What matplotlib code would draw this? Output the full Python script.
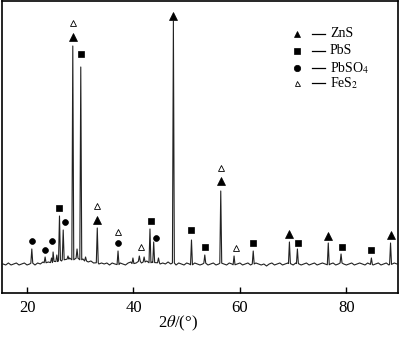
import numpy as np
import matplotlib.pyplot as plt

plt.rcParams['font.family'] = ['Liberation Serif', 'DejaVu Serif']
plt.rcParams['mathtext.fontset'] = 'stix'

# baseline of the pattern, every 0.5 deg from 15.5 to 89.5
base_start = 15.5
base_step = 0.5
baseline = [
    29, 28, 30, 28, 29, 30, 28, 29, 30, 28,
    29, 30, 28, 30, 29, 31, 30, 31, 30, 32,
    31, 33, 32, 34, 33, 35, 33, 34, 35, 33,
    34, 32, 31, 32, 30, 31, 29, 30, 29, 30,
    28, 30, 29, 28, 30, 29, 28, 30, 31, 29,
    30, 32, 30, 31, 32, 30, 31, 30, 31, 29,
    30, 29, 31, 29, 30, 28, 30, 29, 28, 30,
    29, 28, 30, 29, 28, 29, 30, 28, 29, 30,
    28, 29, 30, 29, 28, 30, 29, 28, 29, 30,
    28, 29, 30, 28, 29, 30, 29, 28, 29, 27,
    29, 30, 28, 29, 30, 28, 29, 30, 29, 28,
    30, 29, 28, 29, 30, 28, 29, 30, 28, 29,
    30, 29, 28, 29, 30, 28, 29, 30, 29, 28,
    29, 30, 28, 29, 30, 29, 28, 30, 29, 28,
    29, 30, 28, 29, 30, 28, 29, 30, 29,
]

# diffraction peaks: 2theta and height
peak_pos = [20.9, 23.4, 24.6, 24.9, 25.6, 26.1, 26.8, 27.7, 28.6, 29.4,
            30.1, 31.0, 33.2, 37.1, 39.9, 41.1, 42.0, 43.1, 43.8, 44.7,
            47.5, 50.9, 53.4, 56.4, 58.9, 62.5, 69.3, 70.8, 76.6, 79.0,
            84.7, 88.3]
peak_int = [44, 36, 35, 41, 38, 77, 63, 37, 247, 44,
            226, 36, 65, 42, 35, 37, 36, 64, 51, 35,
            272, 53, 38, 102, 37, 42, 51, 44, 50, 39,
            35, 50]

# phase labels
zns_x = [28.6, 33.2, 47.5, 56.4, 69.3, 76.6, 88.4]
zns_y = [256, 73, 277, 112, 59, 57, 58]
pbs_x = [26.0, 30.1, 43.2, 50.9, 53.4, 62.4, 71.0, 79.1, 84.7]
pbs_y = [85, 239, 72, 63, 46, 50, 50, 46, 43]
pbso4_x = [20.9, 23.4, 24.7, 27.2, 37.1, 44.2]
pbso4_y = [52, 43, 52, 71, 50, 55]
fes2_x = [28.6, 33.2, 37.1, 41.5, 56.4, 59.2]
fes2_y = [270, 87, 61, 46, 125, 45]

legend_labels = ['ZnS', 'PbS', r'PbSO$_4$', r'FeS$_2$']

# assemble the profile: baseline points plus a sharp spike per peak
bx = base_start + base_step * np.arange(len(baseline))
by = np.array(baseline, dtype=float)
pp = np.array(peak_pos)
keep = np.min(np.abs(bx[:, None] - pp[None, :]), axis=1) > 0.25
xs = list(bx[keep])
ys = list(by[keep])
for p, h in zip(peak_pos, peak_int):
    b = np.interp(p, bx, by)
    xs += [p - 0.18, p, p + 0.18]
    ys += [b, h, b]
order = np.argsort(xs)
xs = np.array(xs)[order]
ys = np.array(ys)[order]

fig = plt.figure(figsize=(4, 3.41), dpi=100)
ax = fig.add_axes([0.005, 0.1408, 0.99, 0.8563])

ax.plot(xs, ys, color='#222222', lw=0.8)

ax.plot(zns_x, zns_y, ls='none', marker='^', ms=5.2, mew=0.5, color='black')
ax.plot(pbs_x, pbs_y, ls='none', marker='s', ms=3.8, mew=0.5, color='black')
ax.plot(pbso4_x, pbso4_y, ls='none', marker='o', ms=4.2, mew=0.5, color='black')
ax.plot(fes2_x, fes2_y, ls='none', marker='^', ms=4.5, mfc='white',
        mec='black', mew=0.6)

# legend drawn by hand
leg_y = [0.887, 0.829, 0.771, 0.719]
leg_mk = [dict(marker='^', ms=4.8, mew=0.5, color='black'),
          dict(marker='s', ms=4, mew=0.5, color='black'),
          dict(marker='o', ms=4.6, mew=0.5, color='black'),
          dict(marker='^', ms=3.6, mfc='white', mec='black', mew=0.6)]
for y, lab, mk in zip(leg_y, legend_labels, leg_mk):
    ax.plot([0.745], [y], transform=ax.transAxes, ls='none', **mk)
    ax.plot([0.783, 0.815], [y, y], transform=ax.transAxes, color='black', lw=0.9)
    ax.text(0.828, y, lab, transform=ax.transAxes, fontsize=10, va='center')

ax.set_xlim(15.3, 89.7)
ax.set_ylim(0, 292)
ax.set_xticks([20, 40, 60, 80])
ax.set_yticks([])
ax.tick_params(axis='x', direction='in', length=4, width=1, labelsize=12, pad=5)
for s in ax.spines.values():
    s.set_linewidth(1.2)

ax.set_xlabel(r'2$\theta$/(°)', fontsize=12)
ax.xaxis.set_label_coords(0.444, -0.07)

fig.savefig('out.png', dpi=100)
